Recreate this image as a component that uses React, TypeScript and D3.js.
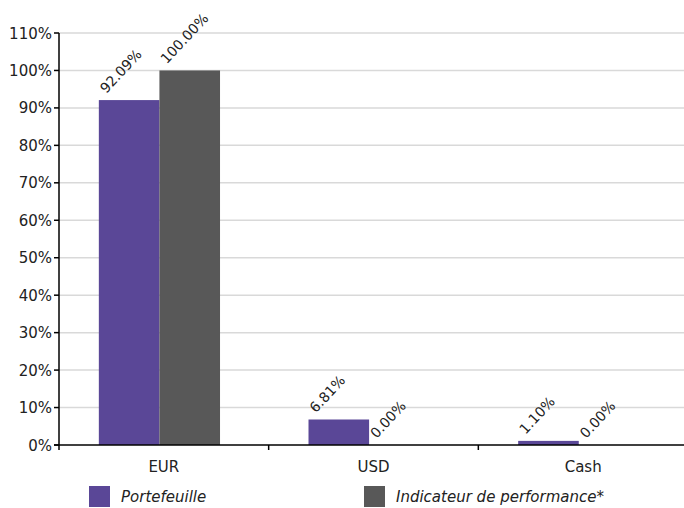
import React from "react";
import * as d3 from "d3";

const categories = ["EUR", "USD", "Cash"];
const seriesNames = ["Portefeuille", "Indicateur de performance*"];
const portefeuille = [92.09, 6.81, 1.1];
const indicateur = [100.0, 0.0, 0.0];
const yTicks = [0, 10, 20, 30, 40, 50, 60, 70, 80, 90, 100, 110];
const colors = ["#5a4797", "#585858"];

const W = 684;
const H = 508;
const left = 59;
const right = 688;
const top = 33;
const bottom = 445;
const font = "'DejaVu Sans', sans-serif";

export default function App() {
  const x0 = d3.scaleBand<string>().domain(categories).range([left, right]).padding(0);
  const bw = x0.bandwidth();
  const x1 = d3.scaleBand<string>().domain(seriesNames).range([bw * 0.19, bw * 0.768]).padding(0);
  const y = d3.scaleLinear().domain([0, 110]).range([bottom, top]);
  const series = [portefeuille, indicateur];

  return (
    <div style={{ position: "absolute", left: 0, top: 0 }}>
      <svg width={W} height={H} style={{ display: "block" }} fontFamily={font}>
        <rect width={W} height={H} fill="#fff" />
        {yTicks.filter((t) => t > 0).map((t) => (
          <line key={"g" + t} x1={left} x2={right} y1={y(t)} y2={y(t)} stroke="#d9d9d9" strokeWidth={1.5} />
        ))}
        {categories.map((c, ci) =>
          seriesNames.map((s, si) => {
            const v = series[si][ci];
            const bx = (x0(c) as number) + (x1(s) as number);
            return (
              <rect key={c + s} x={bx} y={y(v)} width={x1.bandwidth()} height={y(0) - y(v)} fill={colors[si]} />
            );
          })
        )}
        {categories.map((c, ci) =>
          seriesNames.map((s, si) => {
            const v = series[si][ci];
            const cx = (x0(c) as number) + (x1(s) as number) + x1.bandwidth() / 2;
            const tx = cx - 23;
            const ty = y(v) - 6;
            return (
              <text key={"l" + c + s} x={tx} y={ty} transform={`rotate(-47 ${tx} ${ty})`} fontSize={14} fill="#222">
                {v.toFixed(2) + "%"}
              </text>
            );
          })
        )}
        <line x1={left} x2={left} y1={top} y2={bottom} stroke="#000" strokeWidth={1.5} />
        <line x1={left - 5} x2={right} y1={bottom} y2={bottom} stroke="#000" strokeWidth={1.5} />
        {yTicks.map((t) => (
          <g key={"t" + t}>
            <line x1={left - 5} x2={left} y1={y(t)} y2={y(t)} stroke="#000" strokeWidth={1.5} />
            <text x={52} y={y(t) + 5.5} textAnchor="end" fontSize={15} fill="#222">
              {t + "%"}
            </text>
          </g>
        ))}
        {categories.map((c) => (
          <line key={"xt" + c} x1={x0(c)} x2={x0(c)} y1={bottom} y2={bottom + 5} stroke="#000" strokeWidth={1.5} />
        ))}
        {categories.map((c) => (
          <text key={"xl" + c} x={(x0(c) as number) + bw / 2} y={472} textAnchor="middle" fontSize={15} fill="#222">
            {c}
          </text>
        ))}
        {seriesNames.map((s, i) => {
          const lx = i === 0 ? 89 : 364;
          return (
            <g key={"lg" + s}>
              <rect x={lx} y={486} width={21} height={21} fill={colors[i]} />
              <text x={lx + 32} y={502} fontSize={15} fontStyle="italic" fill="#222">
                {s}
              </text>
            </g>
          );
        })}
      </svg>
    </div>
  );
}
